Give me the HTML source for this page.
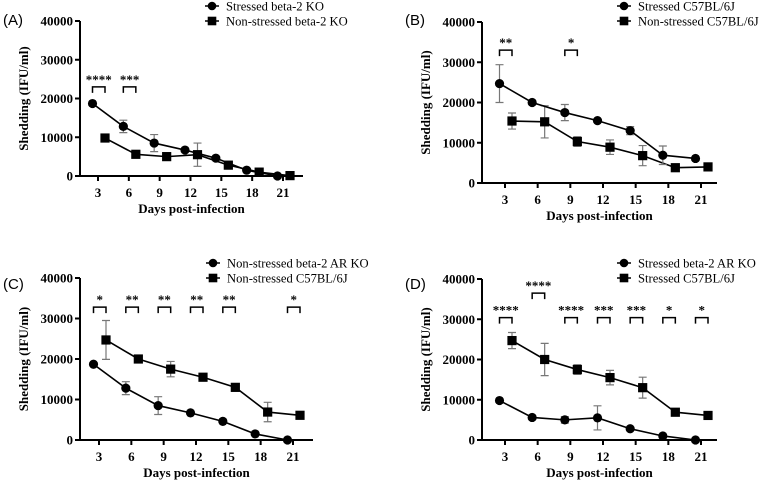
<!DOCTYPE html>
<html><head><meta charset="utf-8"><style>
body{margin:0;background:#fff;width:764px;height:481px;overflow:hidden}
svg{display:block}
.tk{font-family:"Liberation Serif",serif;font-weight:bold;font-size:13px}
.lg{font-family:"Liberation Serif",serif;font-size:12.6px}
.pl{font-family:"Liberation Sans",sans-serif;font-size:15px}
</style></head><body>
<svg id="c" width="764" height="481"></svg>
<script>
const days=[3,6,9,12,15,18,21];
const yTicks=[0,10000,20000,30000,40000];
const aCirc=[18700,12800,8500,6700,4600,1500,0];
const aCircErr=[0,1600,2200,0,0,0,0];
const aSq=[9800,5600,5000,5500,2800,1000,100];
const aSqErr=[0,0,0,3000,0,0,0];
const bCirc=[24700,20000,17500,15500,13000,6900,6100];
const bCircErr=[4700,0,2000,0,1000,2300,0];
const bSq=[15400,15200,10300,8900,6800,3800,4000];
const bSqErr=[2000,4000,1200,1800,2500,0,0];
const cCirc=[18700,12800,8500,6700,4600,1500,0];
const cCircErr=[0,1600,2200,0,0,0,0];
const cSq=[24700,20000,17500,15500,13000,6900,6100];
const cSqErr=[4800,0,1900,0,0,2400,0];
const dCirc=[9800,5600,5000,5500,2800,1000,0];
const dCircErr=[0,0,800,3000,0,0,0];
const dSq=[24700,20000,17500,15500,13000,6900,6100];
const dSqErr=[2000,4000,1200,1800,2600,0,0];
const aSig=[[3,'****',23000],[6,'***',23000]];
const bSig=[[3,'**',33000],[9,'*',33000]];
const cSig=[[3,'*',32800],[6,'**',32800],[9,'**',32800],[12,'**',32800],[15,'**',32800],[21,'*',32800]];
const dSig=[[3,'****',30400],[6,'****',36500],[9,'****',30400],[12,'***',30400],[15,'***',30400],[18,'*',30400],[21,'*',30400]];

const svg=document.getElementById('c');
const NS='http://www.w3.org/2000/svg';
function mk(tag,at,parent,txt){const e=document.createElementNS(NS,tag);for(const k in at)e.setAttribute(k,at[k]);if(txt!==undefined)e.textContent=txt;(parent||svg).appendChild(e);return e;}

function panel(P){
  const g=mk('g',{});
  
  
  const X=d=>P.x3+(d-3)*(P.x21-P.x3)/18;
  const Y=v=>P.y0-(v/40000)*(P.y0-P.y40);
  const ax=mk('path',{d:`M${P.ax} ${P.y40}V${P.y0}H${P.xend}`,stroke:'#000','stroke-width':2,fill:'none'},g);
  
  
  yTicks.forEach(t=>{
    mk('line',{x1:P.ax-5,x2:P.ax,y1:Y(t),y2:Y(t),stroke:'#000','stroke-width':2},g);
    const l=mk('text',{x:P.ax-7,y:Y(t)+4.5,'text-anchor':'end',class:'tk'},g,String(t));
    
    
  });
  days.forEach(d=>{
    mk('line',{x1:X(d),x2:X(d),y1:P.y0,y2:P.y0+5,stroke:'#000','stroke-width':2},g);
    const l=mk('text',{x:X(d),y:P.y0+21,'text-anchor':'middle',class:'tk'},g,String(d));
    
    
  });
  const yl=mk('text',{transform:`translate(${P.ax-52},${(P.y0+P.y40)/2}) rotate(-90)`,'text-anchor':'middle',class:'tk','font-size':'14'},g,'Shedding (IFU/ml)');
  
  
  const xl=mk('text',{x:(P.ax+P.xend)/2,y:P.y0+37,'text-anchor':'middle',class:'tk','font-size':'14'},g,'Days post-infection');
  
  
  const pl=mk('text',{x:P.lx,y:P.ly,class:'pl'},g,'('+P.id.toUpperCase()+')');
  
  
  function series(vals,errs,off,shape,name){
    const sg=mk('g',{},g);
    
    
    mk('polyline',{points:days.map((d,i)=>`${X(d)+off},${Y(vals[i])}`).join(' '),fill:'none',stroke:'#000','stroke-width':1.6},sg);
    days.forEach((d,i)=>{
      const cx=X(d)+off,cy=Y(vals[i]);
      if(errs[i]>0){
        mk('path',{d:`M${cx} ${Y(vals[i]+errs[i])}V${Y(vals[i]-errs[i])}M${cx-4} ${Y(vals[i]+errs[i])}h8M${cx-4} ${Y(vals[i]-errs[i])}h8`,stroke:'#777','stroke-width':1.2,fill:'none'},sg);
      }
      const m=shape==='c'?mk('circle',{cx,cy,r:4.6,fill:'#000'},sg):mk('rect',{x:cx-4.6,y:cy-4.6,width:9.2,height:9.2,fill:'#000'},sg);
      
      
    });
  }
  series(P.sq,P.sqE,7,'s','series-square');
  series(P.ci,P.ciE,-5.5,'c','series-circle');
  P.sig.forEach(s=>{
    const x1=X(s[0])-5.5,x2=X(s[0])+7,yb=Y(s[2]);
    const b=mk('path',{d:`M${x1} ${yb+6}V${yb}H${x2}V${yb+6}`,stroke:'#000','stroke-width':1.5,fill:'none'},g);
    
    
    const t=mk('text',{x:(x1+x2)/2,y:yb-3,'text-anchor':'middle',class:'tk','font-size':'15'},g,s[1]);
    
    
  });
  P.leg.forEach((name,i)=>{
    const lg=mk('g',{},g);
    
    
    const yy=P.legY+i*15;
    mk('line',{x1:P.legX-7,x2:P.legX+7,y1:yy,y2:yy,stroke:'#000','stroke-width':1.5},lg);
    if(i===0)mk('circle',{cx:P.legX,cy:yy,r:4.3,fill:'#000'},lg);
    else mk('rect',{x:P.legX-4.3,y:yy-4.3,width:8.6,height:8.6,fill:'#000'},lg);
    mk('text',{x:P.legX+14,y:yy+4.5,class:'lg'},lg,name);
  });
}
panel({id:'a',ax:80,y0:176,y40:21,xend:303,x3:98,x21:283,lx:3,ly:25,legX:212,legY:6,
  ci:aCirc,ciE:aCircErr,sq:aSq,sqE:aSqErr,sig:aSig,leg:['Stressed beta-2 KO','Non-stressed beta-2 KO']});
panel({id:'b',ax:482,y0:183,y40:22,xend:717,x3:505,x21:701,lx:405,ly:25,legX:624,legY:6,
  ci:bCirc,ciE:bCircErr,sq:bSq,sqE:bSqErr,sig:bSig,leg:['Stressed C57BL/6J','Non-stressed C57BL/6J']});
panel({id:'c',ax:80,y0:440,y40:278,xend:313,x3:99,x21:293,lx:3,ly:289,legX:213,legY:263,
  ci:cCirc,ciE:cCircErr,sq:cSq,sqE:cSqErr,sig:cSig,leg:['Non-stressed beta-2 AR KO','Non-stressed C57BL/6J']});
panel({id:'d',ax:482,y0:440,y40:279,xend:717,x3:505,x21:701,lx:405,ly:289,legX:624,legY:263,
  ci:dCirc,ciE:dCircErr,sq:dSq,sqE:dSqErr,sig:dSig,leg:['Stressed beta-2 AR KO','Stressed C57BL/6J']});
</script>
</body></html>
